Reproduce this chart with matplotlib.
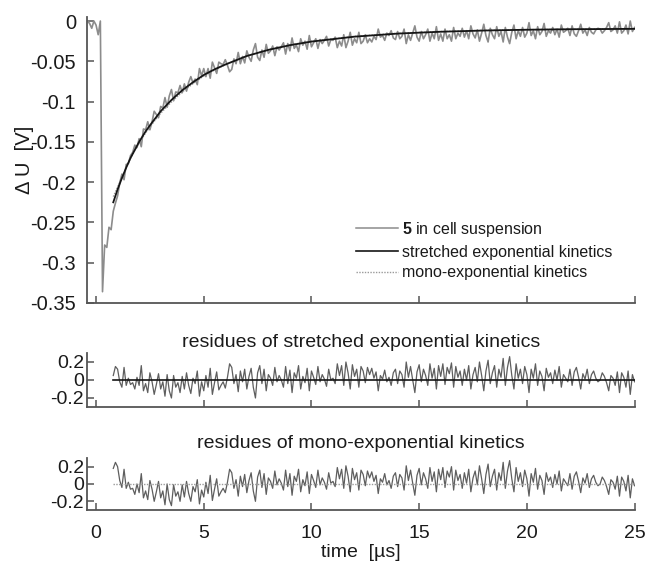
import numpy as np
import matplotlib
matplotlib.use("Agg")
import matplotlib.pyplot as plt
from matplotlib.lines import Line2D

plt.rcParams['font.family'] = ['Liberation Sans', 'DejaVu Sans']
plt.rcParams['mathtext.fontset'] = 'custom'
plt.rcParams['mathtext.rm'] = 'Liberation Sans'
plt.rcParams['mathtext.bf'] = 'Liberation Sans:bold'

# ---------------- data ----------------
raw_start, raw_step = -0.4, 0.1
raw_signal = [
    0.000, -0.003, -0.009, 0.000, -0.005, -0.017, 0.000, -0.336, -0.278, -0.281, -0.256, -0.259,
    -0.236, -0.226,
    -0.217, -0.201, -0.190, -0.197, -0.178, -0.177, -0.167, -0.163, -0.154, -0.157,
    -0.146, -0.156, -0.134, -0.135, -0.125, -0.135, -0.125, -0.112, -0.116, -0.120,
    -0.106, -0.108, -0.095, -0.107, -0.093, -0.085, -0.099, -0.088, -0.089, -0.080,
    -0.089, -0.078, -0.087, -0.076, -0.069, -0.077, -0.072, -0.079, -0.059, -0.068,
    -0.059, -0.069, -0.059, -0.071, -0.051, -0.058, -0.065, -0.051, -0.053, -0.054,
    -0.048, -0.055, -0.063, -0.060, -0.047, -0.053, -0.039, -0.053, -0.044, -0.052,
    -0.037, -0.045, -0.050, -0.036, -0.028, -0.045, -0.049, -0.036, -0.045, -0.029,
    -0.040, -0.037, -0.031, -0.043, -0.032, -0.036, -0.032, -0.027, -0.041, -0.028,
    -0.037, -0.021, -0.034, -0.030, -0.038, -0.022, -0.030, -0.025, -0.035, -0.018,
    -0.032, -0.027, -0.022, -0.034, -0.023, -0.028, -0.024, -0.019, -0.031, -0.023,
    -0.024, -0.020, -0.033, -0.025, -0.031, -0.017, -0.033, -0.025, -0.014, -0.030,
    -0.022, -0.027, -0.014, -0.028, -0.025, -0.017, -0.027, -0.022, -0.026, -0.019,
    -0.023, -0.010, -0.020, -0.018, -0.024, -0.015, -0.018, -0.012, -0.021, -0.023,
    -0.013, -0.022, -0.019, -0.010, -0.028, -0.017, -0.024, -0.015, -0.006, -0.020,
    -0.025, -0.013, -0.022, -0.017, -0.010, -0.025, -0.015, -0.022, -0.007, -0.024,
    -0.016, -0.025, -0.010, -0.022, -0.017, -0.025, -0.008, -0.022, -0.015, -0.019,
    -0.009, -0.020, -0.012, -0.022, -0.006, -0.016, -0.021, -0.011, -0.025, -0.015,
    -0.004, -0.018, -0.026, -0.009, -0.017, -0.022, -0.007, -0.019, -0.013, -0.026,
    -0.008, -0.020, -0.028, -0.014, -0.005, -0.022, -0.012, -0.019, -0.008, -0.020,
    -0.015, -0.002, -0.018, -0.012, -0.022, -0.007, -0.017, -0.013, -0.003, -0.019,
    -0.012, -0.015, -0.008, -0.017, -0.010, -0.020, -0.005, -0.014, -0.012, -0.009,
    -0.018, -0.006, -0.016, -0.019, -0.012, -0.004, -0.015, -0.011, -0.018, -0.008,
    -0.014, -0.016, -0.011, -0.009, -0.010, -0.015, -0.012, -0.008, -0.002, -0.013,
    -0.011, -0.006, -0.015, -0.001, -0.015, -0.012, -0.005, -0.016, 0.000, -0.013,
    -0.008,
]

fit_time = [0.8, 0.9, 1.0, 1.2, 1.4, 1.6, 1.8, 2.0, 2.3, 2.6, 3.0, 3.5, 4.0, 4.5, 5.0,
            5.5, 6.0, 7.0, 8.0, 9.0, 10, 12, 14, 16, 18, 20, 22, 25]
stretched_fit = [-0.225, -0.217, -0.209, -0.195, -0.182, -0.170, -0.160, -0.150, -0.137,
                 -0.126, -0.112, -0.098, -0.086, -0.076, -0.067, -0.060, -0.054, -0.0434,
                 -0.0358, -0.030, -0.0255, -0.0194, -0.0156, -0.0133, -0.0118, -0.0108,
                 -0.0102, -0.0097]
mono_fit = [-0.218, -0.212, -0.206, -0.194, -0.182, -0.1705, -0.1605, -0.1515, -0.139,
            -0.128, -0.1145, -0.1005, -0.0882, -0.0778, -0.0683, -0.0608, -0.0544, -0.0434,
            -0.0355, -0.0296, -0.0251, -0.019, -0.0152, -0.013, -0.0115, -0.0107, -0.0102,
            -0.0097]

res_start, res_step = 0.8, 0.1
res_stretched = [
    0.05, 0.15,
    0.12, -0.02, -0.08, 0.14, -0.06, 0.02, -0.05, -0.03, -0.10, 0.03,
    -0.06, 0.16, -0.12, -0.04, -0.14, 0.08, -0.02, -0.16, -0.05, 0.07,
    -0.10, -0.02, -0.18, 0.06, -0.12, -0.20, 0.05, -0.08, -0.03, -0.14,
    0.04, -0.10, 0.08, -0.06, -0.15, 0.02, -0.04, 0.10, -0.18, -0.02,
    -0.12, 0.05, -0.08, 0.13, -0.16, -0.03, 0.09, -0.11, -0.06, -0.02,
    -0.09, 0.03, 0.18, 0.14, -0.04, 0.06, -0.13, 0.10, -0.02, 0.12,
    -0.10, 0.04, 0.13, -0.08, -0.20, 0.08, 0.16, -0.04, 0.12, -0.12,
    0.06, 0.02, -0.06, 0.14, -0.02, 0.05, 0.00, -0.08, 0.15, -0.04,
    0.11, -0.14, 0.08, 0.02, 0.16, -0.10, 0.04, -0.03, 0.13, -0.12,
    0.10, 0.03, -0.05, 0.15, -0.02, 0.06, 0.01, -0.07, 0.12, 0.00,
    0.02, -0.04, 0.18, 0.05, 0.16, -0.06, 0.20, 0.08, -0.10, 0.17,
    0.04, 0.12, -0.08, 0.15, 0.10, -0.03, 0.14, 0.06, 0.13, 0.02,
    0.09, -0.12, 0.05, 0.01, 0.11, -0.02, 0.03, -0.06, 0.08, 0.12,
    -0.04, 0.10, 0.06, -0.08, 0.20, 0.03, 0.15, 0.00, -0.14, 0.09,
    0.17, -0.02, 0.12, 0.05, -0.06, 0.18, 0.02, 0.13, -0.10, 0.16,
    0.04, 0.18, -0.05, 0.14, 0.07, 0.19, -0.08, 0.15, 0.03, 0.10,
    -0.06, 0.12, 0.00, 0.16, -0.10, 0.06, 0.14, -0.02, 0.20, 0.05,
    -0.12, 0.10, 0.22, -0.04, 0.08, 0.16, -0.08, 0.12, 0.03, 0.24,
    -0.06, 0.14, 0.26, 0.05, -0.10, 0.18, 0.02, 0.12, -0.04, 0.15,
    0.06, -0.14, 0.12, 0.02, 0.18, -0.06, 0.10, 0.04, -0.12, 0.13,
    0.03, 0.08, -0.04, 0.11, 0.00, 0.15, -0.08, 0.06, 0.02, -0.02,
    0.12, -0.06, 0.09, 0.14, 0.03, -0.10, 0.07, 0.01, 0.12, -0.04,
    0.06, 0.10, 0.02, -0.02, 0.00, 0.08, 0.04, -0.03, -0.12, 0.05,
    0.02, -0.06, 0.09, -0.14, 0.08, 0.03, -0.08, 0.10, -0.16, 0.06,
    -0.02,
]
res_mono = [
    0.18, 0.25,
    0.20, 0.04, -0.04, 0.17, -0.05, 0.02, -0.06, -0.05, -0.12, 0.00,
    -0.10, 0.12, -0.16, -0.08, -0.18, 0.04, -0.06, -0.20, -0.09, 0.03,
    -0.16, -0.08, -0.24, 0.00, -0.18, -0.25, -0.01, -0.14, -0.09, -0.20,
    -0.01, -0.15, 0.03, -0.11, -0.20, -0.03, -0.09, 0.05, -0.23, -0.07,
    -0.15, 0.02, -0.11, 0.10, -0.19, -0.06, 0.06, -0.14, -0.09, -0.05,
    -0.10, 0.02, 0.17, 0.13, -0.05, 0.05, -0.14, 0.09, -0.03, 0.11,
    -0.10, 0.04, 0.13, -0.08, -0.20, 0.08, 0.16, -0.04, 0.12, -0.12,
    0.07, 0.03, -0.05, 0.15, -0.01, 0.06, 0.01, -0.07, 0.16, -0.03,
    0.12, -0.13, 0.09, 0.03, 0.17, -0.09, 0.05, -0.02, 0.14, -0.11,
    0.11, 0.04, -0.04, 0.16, -0.01, 0.07, 0.02, -0.06, 0.13, 0.01,
    0.03, -0.03, 0.19, 0.06, 0.17, -0.05, 0.21, 0.09, -0.09, 0.18,
    0.05, 0.13, -0.07, 0.16, 0.11, -0.02, 0.15, 0.07, 0.14, 0.03,
    0.10, -0.11, 0.06, 0.02, 0.12, -0.01, 0.04, -0.05, 0.09, 0.13,
    -0.03, 0.11, 0.07, -0.07, 0.21, 0.04, 0.16, 0.01, -0.13, 0.10,
    0.18, -0.01, 0.13, 0.06, -0.05, 0.19, 0.03, 0.14, -0.09, 0.17,
    0.05, 0.19, -0.04, 0.15, 0.08, 0.20, -0.07, 0.16, 0.04, 0.11,
    -0.05, 0.13, 0.01, 0.17, -0.09, 0.07, 0.15, -0.01, 0.21, 0.06,
    -0.11, 0.11, 0.23, -0.03, 0.09, 0.17, -0.07, 0.13, 0.04, 0.25,
    -0.05, 0.15, 0.27, 0.06, -0.09, 0.19, 0.03, 0.13, -0.03, 0.16,
    0.06, -0.14, 0.12, 0.02, 0.18, -0.06, 0.10, 0.04, -0.12, 0.13,
    0.03, 0.08, -0.04, 0.11, 0.00, 0.15, -0.08, 0.06, 0.02, -0.02,
    0.12, -0.06, 0.09, 0.14, 0.03, -0.10, 0.07, 0.01, 0.12, -0.04,
    0.06, 0.10, 0.02, -0.02, 0.00, 0.08, 0.04, -0.03, -0.12, 0.05,
    0.02, -0.06, 0.09, -0.14, 0.08, 0.03, -0.08, 0.10, -0.16, 0.06,
    -0.02,
]

x_ticks = [0, 5, 10, 15, 20, 25]
main_yticks = [0, -0.05, -0.1, -0.15, -0.2, -0.25, -0.3, -0.35]
main_yticklabels = ['0', '-0.05', '-0.1', '-0.15', '-0.2', '-0.25', '-0.3', '-0.35']
res_yticks = [0.2, 0, -0.2]
res_yticklabels = ['0.2', '0', '-0.2']
legend_labels = [r'$\mathbf{5}$ in cell suspension', 'stretched exponential kinetics',
                 'mono-exponential kinetics']
title_stretched = 'residues of stretched exponential kinetics'
title_mono = 'residues of mono-exponential kinetics'

t_raw = raw_start + raw_step * np.arange(len(raw_signal))
t_res_s = res_start + res_step * np.arange(len(res_stretched))
t_res_m = res_start + res_step * np.arange(len(res_mono))

# ---------------- styling ----------------
W, H = 645, 566
SPINE = '#555555'
TXT = '#1a1a1a'
XLIM = (-0.42, 25.02)
FS = 14

fig = plt.figure(figsize=(W / 100, H / 100), dpi=100)
left = 87 / W
width = 548 / W
ax0 = fig.add_axes([left, 1 - 303 / H, width, 286 / H])
ax1 = fig.add_axes([left, 1 - 407 / H, width, 54 / H])
ax2 = fig.add_axes([left, 1 - 510 / H, width, 52 / H])


def style(ax):
    for s in ('top', 'right'):
        ax.spines[s].set_visible(False)
    for s in ('left', 'bottom'):
        ax.spines[s].set_color(SPINE)
        ax.spines[s].set_linewidth(1.3)
    ax.tick_params(direction='in', length=5, width=1.1, color=SPINE,
                   labelsize=FS, labelcolor=TXT, pad=2)
    ax.set_xlim(*XLIM)
    ax.set_xticks(x_ticks)


for ax in (ax0, ax1, ax2):
    style(ax)

# main panel
ax0.plot(t_raw, raw_signal, color='#8c8c8c', lw=1.2, zorder=2)
ax0.plot(fit_time, mono_fit, color='#9a9a9a', lw=1.0, ls=(0, (1, 1)), zorder=3)
ax0.plot(fit_time, stretched_fit, color='#151515', lw=1.3, zorder=4)
ax0.set_ylim(-0.35, 0.005)
ax0.set_yticks(main_yticks)
ax0.set_yticklabels(main_yticklabels)
ax0.tick_params(axis='x', labelbottom=False)
ax0.tick_params(axis='y', pad=8, labelsize=14.5)

handles = [Line2D([], [], color='#8c8c8c', lw=1.1),
           Line2D([], [], color='#151515', lw=1.2),
           Line2D([], [], color='#9a9a9a', lw=1.0, ls=(0, (1, 1)))]
ax0.legend(handles, legend_labels, loc='upper left',
           bbox_to_anchor=((356 - 87) / 548, (303 - 220) / 286),
           frameon=False, fontsize=11.5, handlelength=2.6, handletextpad=0.3,
           labelspacing=0.35, borderpad=0, borderaxespad=0, labelcolor=TXT)

# residual panels
ax1.plot(t_res_s, res_stretched, color='#5e5e5e', lw=0.9, zorder=2)
ax1.axhline(0, xmin=(0.8 - XLIM[0]) / (XLIM[1] - XLIM[0]), color='#151515', lw=1.2, zorder=3)
ax1.set_ylim(-0.3, 0.3)
ax1.set_yticks(res_yticks)
ax1.set_yticklabels(res_yticklabels)
ax1.tick_params(axis='x', labelbottom=False)
ax1.set_title(title_stretched, fontsize=FS, color=TXT, pad=4)

ax2.plot(t_res_m, res_mono, color='#5e5e5e', lw=0.9, zorder=2)
ax2.axhline(0, xmin=(0.8 - XLIM[0]) / (XLIM[1] - XLIM[0]), color='#9a9a9a', lw=1.0,
            ls=(0, (1, 1)), zorder=3)
ax2.set_ylim(-0.3, 0.3)
ax2.set_yticks(res_yticks)
ax2.set_yticklabels(res_yticklabels)
ax2.set_title(title_mono, fontsize=FS, color=TXT, pad=7)
ax2.set_xticklabels([str(v) for v in x_ticks])
ax2.tick_params(axis='x', pad=11)
ax2.set_xlabel('time  [µs]', fontsize=FS, color=TXT, labelpad=1)

fig.text(24 / W, 1 - 160 / H, 'Δ U  [V]', rotation=90, ha='center', va='center',
         fontsize=14.5, color=TXT)

fig.savefig('out.png', dpi=100)
